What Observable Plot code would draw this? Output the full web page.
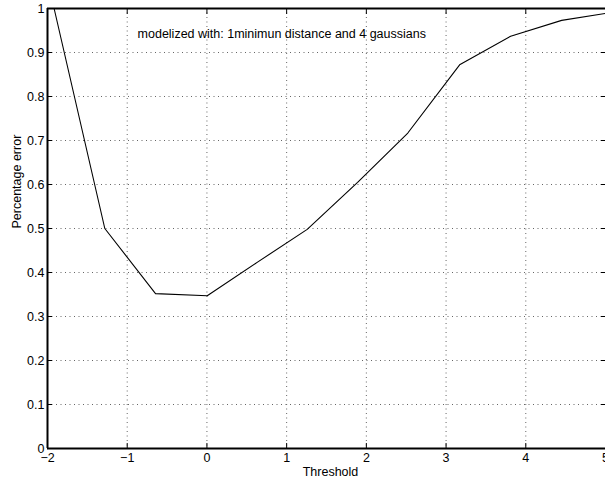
<!DOCTYPE html>
<html>
<head>
<meta charset="utf-8">
<script src="https://cdn.jsdelivr.net/npm/d3@7"></script>
<script src="https://cdn.jsdelivr.net/npm/@observablehq/plot@0.6"></script>
<style>
  html, body { margin: 0; padding: 0; background: #fff; }
  #chart { width: 605px; height: 483px; }
</style>
</head>
<body>
<div id="chart"></div>
<script>
// ---- data ----
const thresholds = [-1.917, -1.281, -0.645, 0.004, 0.63, 1.258, 1.89, 2.52, 3.17, 3.81, 4.45, 5.08];
const errors     = [1.0, 0.500, 0.352, 0.347, 0.423, 0.498, 0.605, 0.717, 0.872, 0.937, 0.973, 0.991];

const xTicks = [-2, -1, 0, 1, 2, 3, 4, 5];
const xTickLabels = ["\u22122", "\u22121", "0", "1", "2", "3", "4", "5"];
const yTicks = [0, 0.1, 0.2, 0.3, 0.4, 0.5, 0.6, 0.7, 0.8, 0.9, 1];
const yTickLabels = ["0", "0.1", "0.2", "0.3", "0.4", "0.5", "0.6", "0.7", "0.8", "0.9", "1"];

const xLabel = "Threshold";
const yLabel = "Percentage error";
const noteText = ["modelized with: 1minimun distance and 4 gaussians"];
const noteX = [-0.87];
const noteY = [0.943];

const rows = thresholds.map((t, i) => ({x: t, y: errors[i]}));
const notes = noteText.map((t, i) => ({text: t, x: noteX[i], y: noteY[i]}));
const xFmt = d => xTickLabels[xTicks.indexOf(d)];
const yFmt = d => yTickLabels[yTicks.findIndex(v => Math.abs(v - d) < 1e-9)];

const FS = 12.5;
const gridStyle = {stroke: "#666", strokeOpacity: 1, strokeWidth: 1, strokeDasharray: "1,3.5"};

const chart = Plot.plot({
  width: 605,
  height: 483,
  marginLeft: 47,
  marginRight: 0,
  marginTop: 8,
  marginBottom: 35,
  style: {fontFamily: "'Liberation Sans', Arial, Helvetica, sans-serif", fontSize: FS + "px", background: "#fff", color: "#000", overflow: "visible"},
  x: {domain: [-2, 5], ticks: xTicks, tickFormat: xFmt},
  y: {domain: [0, 1], ticks: yTicks, tickFormat: yFmt},
  marks: [
    Plot.gridX(xTicks.slice(1, -1), {...gridStyle}),
    Plot.gridY(yTicks.slice(1, -1), {...gridStyle}),
    // tick labels
    Plot.axisX(xTicks, {anchor: "bottom", tickSize: 0, tickPadding: 5, label: null, tickFormat: xFmt, fontSize: FS}),
    Plot.axisY(yTicks, {anchor: "left", tickSize: 0, tickPadding: 3, label: null, tickFormat: yFmt, fontSize: FS}),
    // inward tick marks
    Plot.axisX(xTicks, {anchor: "bottom", tickSize: 5, dy: -5, fill: "none", label: null, stroke: "#000"}),
    Plot.axisX(xTicks, {anchor: "top", tickSize: 5, dy: 5, fill: "none", label: null, stroke: "#000"}),
    Plot.axisY(yTicks, {anchor: "left", tickSize: 5, dx: 5, fill: "none", label: null, stroke: "#000"}),
    Plot.axisY(yTicks, {anchor: "right", tickSize: 5, dx: -5, fill: "none", label: null, stroke: "#000"}),
    // box lines
    Plot.ruleY([0, 1], {stroke: "#000", strokeWidth: 1.8}),
    Plot.ruleX([-2], {stroke: "#000", strokeWidth: 2}),
    // data line
    Plot.line(rows, {x: "x", y: "y", stroke: "#000", strokeWidth: 1.1, clip: true}),
    // annotation
    Plot.text(notes, {x: "x", y: "y", text: "text", textAnchor: "start", fontSize: FS, fill: "#000"}),
    // axis titles
    Plot.text([xLabel], {frameAnchor: "bottom", dx: 4, dy: 27, text: d => d, fontSize: FS, fill: "#000"}),
    Plot.text([yLabel], {frameAnchor: "left", dx: -31, rotate: -90, text: d => d, fontSize: FS, fill: "#000"})
  ]
});
document.getElementById("chart").appendChild(chart);
</script>
</body>
</html>
